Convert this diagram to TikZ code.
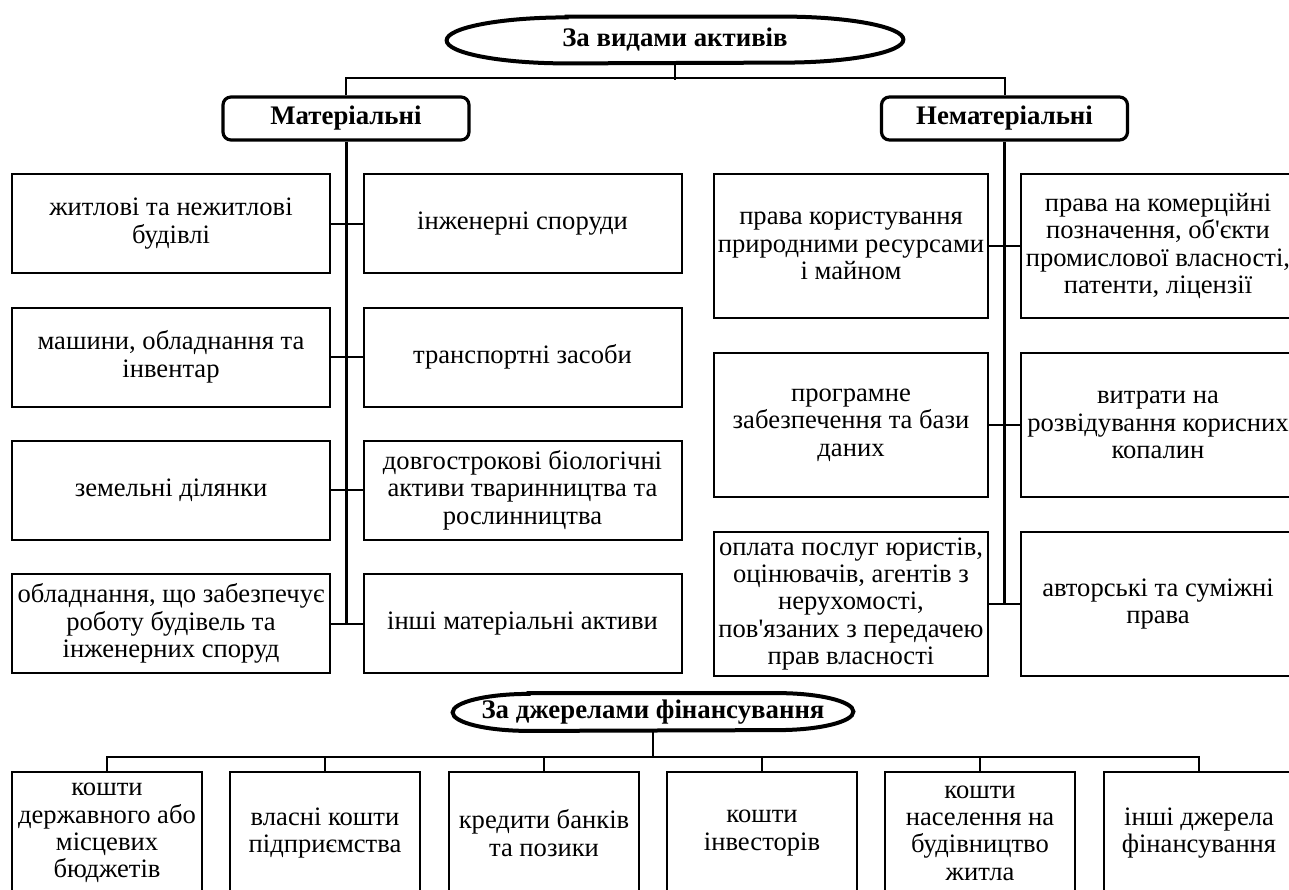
\documentclass[tikz,border=0pt]{standalone}
\usepackage{fontspec}
\setmainfont{Liberation Serif}
% same face without TeX ligature mapping, for a straight apostrophe
\newfontfamily\plainserif{Liberation Serif}
\newcommand{\ap}{{\plainserif'}}

\tikzset{
  txt/.style={font=\fontsize{13.3}{13.7}\selectfont},
  item/.style={txt, draw, line width=1pt, rectangle, inner sep=0pt, align=center},
  matbox/.style={item, minimum width=159pt, minimum height=49.5pt},
  nmbox/.style={item, minimum width=137pt, minimum height=72pt},
  finbox/.style={item, minimum width=95pt, minimum height=61pt},
  headfont/.style={font=\bfseries\fontsize{13.4}{14}\selectfont},
  head/.style={headfont, draw, line width=1.6pt, rounded corners=4pt, inner sep=0pt,
    minimum width=123pt, minimum height=21.5pt},
  ovalarea/.style={headfont, inner sep=0pt},
  ovalline/.style={line width=2pt},
  link/.style={line width=1pt},
  trunk/.style={line width=1.5pt}
}

% elongated oval outline round a node: #1 node, #2 end radius, #3 half height
\newcommand{\ovaloutline}[3]{%
  \draw[ovalline] ([xshift=#2]#1.north west) -- ([xshift=-#2]#1.north east)
    arc[start angle=90, end angle=-90, x radius=#2, y radius=#3]
    -- ([xshift=#2]#1.south west)
    arc[start angle=270, end angle=90, x radius=#2, y radius=#3] -- cycle;}

\begin{document}
\begin{tikzpicture}[x=0.5pt, y=-0.5pt]
\path[use as bounding box] (0,0) rectangle (1289,889);
\clip (0,0) rectangle (1289,889);

% --- classification by type of assets ---
\node[ovalarea, minimum width=228pt, minimum height=23pt] (top) at (675,40) {За видами активів};
\ovaloutline{top}{60pt}{11.5pt}
\coordinate (tj) at (675,80);
\node[head] (mat) at (346,118.5) {Матеріальні};
\node[head] (nemat) at (1004.5,118.5) {Нематеріальні};

\draw[link] (top.south) -- (tj);
\draw[link] (mat.north) -- ([yshift=8.5pt]mat.north) -| (nemat.north);

% tangible assets
\node[matbox] (a1) at (171,223.5) {житлові та нежитлові\\будівлі};
\node[matbox] (a2) at (171,357)   {машини, обладнання та\\інвентар};
\node[matbox] (a3) at (171,490)   {земельні ділянки};
\node[matbox] (a4) at (171,623.5) {обладнання, що забезпечує\\роботу будівель та\\інженерних споруд};
\node[matbox] (b1) at (522.5,223.5) {інженерні споруди};
\node[matbox] (b2) at (522.5,357)   {транспортні засоби};
\node[matbox] (b3) at (522.5,490)   {довгострокові біологічні\\активи тваринництва та\\рослинництва};
\node[matbox] (b4) at (522.5,623.5) {інші матеріальні активи};

\draw[trunk] (mat.south) -- (mat.south |- a4.east);
\foreach \i in {1,...,4} \draw[link] (a\i.east) -- (b\i.west);

% intangible assets
\node[nmbox] (c1) at (851,246) {права користування\\природними ресурсами\\і майном};
\node[nmbox] (c2) at (851,425) {програмне\\забезпечення та бази\\даних};
\node[nmbox] (c3) at (851,604) {оплата послуг юристів,\\оцінювачів, агентів з\\нерухомості,\\пов\ap язаних з передачею\\прав власності};
\node[nmbox] (d1) at (1158,246) {права на комерційні\\позначення, об\ap єкти\\промислової власності,\\патенти, ліцензії};
\node[nmbox] (d2) at (1158,425) {витрати на\\розвідування корисних\\копалин};
\node[nmbox] (d3) at (1158,604) {авторські та суміжні\\права};

\draw[trunk] (nemat.south) -- (nemat.south |- c3.east);
\foreach \i in {1,2,3} \draw[link] (c\i.east) -- (d\i.west);

% --- classification by sources of financing ---
\node[ovalarea, minimum width=200pt, minimum height=18.5pt] (bot) at (653,712) {За джерелами фінансування};
\ovaloutline{bot}{38pt}{9.25pt}
\coordinate (bj) at (653,757);

\node[finbox] (f1) at (107,833)  {кошти\\державного або\\місцевих\\бюджетів};
\node[finbox] (f2) at (325,833)  {власні кошти\\підприємства};
\node[finbox] (f3) at (544,833)  {кредити банків\\та позики};
\node[finbox] (f4) at (762,833)  {кошти\\інвесторів};
\node[finbox] (f5) at (980,833)  {кошти\\населення на\\будівництво\\житла};
\node[finbox] (f6) at (1199,833) {інші джерела\\фінансування};

\draw[link] (bot.south) -- (bj);
\draw[link] (f1.north) |- (bj) -| (f6.north);
\foreach \i in {2,...,5} \draw[link] (f\i.north) -- (f\i.north |- bj);
\end{tikzpicture}
\end{document}
